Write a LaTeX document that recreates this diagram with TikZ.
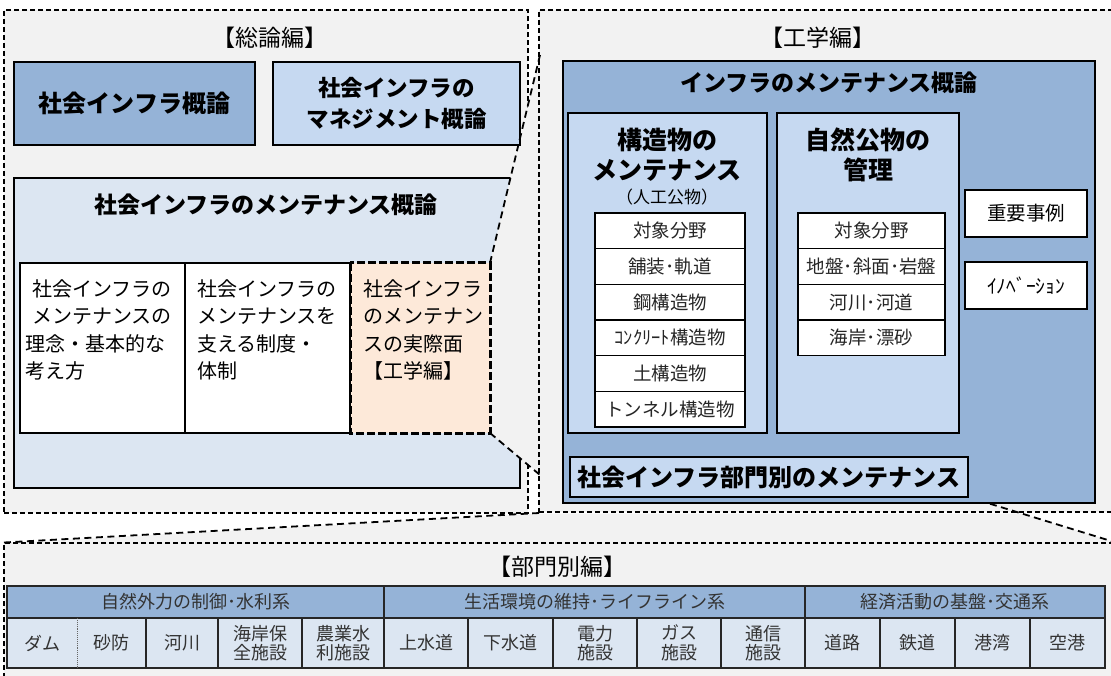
\documentclass[tikz,border=0pt]{standalone}
\usepackage{fontspec}
\setmainfont{Noto Sans CJK JP}
\definecolor{bgray}{HTML}{F2F2F2}
\definecolor{mblue}{HTML}{95B3D7}
\definecolor{lblue}{HTML}{C6D9F1}
\definecolor{vlblue}{HTML}{DCE6F2}
\definecolor{peach}{HTML}{FDE9D9}
\newcommand\fsHead{\fontsize{23}{28}\selectfont}
\newcommand\fsBig{\bfseries\fontsize{24}{30}\selectfont}
\newcommand\fsMg{\bfseries\fontsize{22.5}{31}\selectfont}
\newcommand\fsBold{\bfseries\fontsize{23}{28}\selectfont}
\newcommand\fsSub{\bfseries\fontsize{25}{30}\selectfont}
\newcommand\fsBody{\fontsize{20}{27.5}\selectfont}
\newcommand\fsCell{\fontsize{18.5}{22}\selectfont}
\newcommand\fsSmall{\fontsize{17}{20}\selectfont}
\newcommand\fsTab{\fontsize{18}{19.5}\selectfont}
\newcommand\fsJ{\fontsize{19.5}{22}\selectfont}
\newcommand\fsBumon{\bfseries\fontsize{24}{28}\selectfont}
\begin{document}
\begin{tikzpicture}[x=1pt,y=-1pt,
  bx/.style={rectangle, inner sep=0pt, outer sep=0pt, anchor=north west},
  area/.style={bx, draw=black, fill=bgray, line width=1.2pt, dash pattern=on 5pt off 3pt},
  thk/.style={bx, draw=black, line width=2.6pt},
  cellb/.style={bx, draw=black, fill=white, line width=1.1pt, font=\fsCell, text=black!85},
  tcell/.style={bx, draw=black!85, line width=1.1pt, font=\fsTab, text=black!80, align=center},
  zl/.style={draw=black, line width=1.8pt, dash pattern=on 7pt off 4.5pt},
  lbl/.style={inner sep=0pt, text=black},
]
\useasboundingbox (0,0) rectangle (1111,676);
\fill[white] (0,0) rectangle (1111,676);

% ---------- 総論編 ----------
\node[area, minimum width=524pt, minimum height=503pt] (soron) at (4,10) {};
\node[lbl, font=\fsHead] (soronT) at (270,38) {【総論編】};
\node[thk, fill=mblue, minimum width=241pt, minimum height=83pt, font=\fsBig] (gairon) at (14,62) {社会インフラ概論};
\node[thk, fill=vlblue, minimum width=506pt, minimum height=310pt] (maint) at (14,178) {};
\node[lbl, font=\fsBold] (maintT) at (266,205) {社会インフラのメンテナンス概論};

% upper zoom region
\coordinate (zTL) at (490,263);
\coordinate (zTR) at (540,55);
\coordinate (zBR) at (540,475);
\coordinate (zBL) at (490,433);
\fill[bgray] (zTL) -- (zTR) -- (zBR) -- (zBL) -- cycle;

\node[thk, fill=lblue, minimum width=247pt, minimum height=83pt, align=center, font=\fsMg] (mgmt) at (273,62) {社会インフラの\\マネジメント概論};

\node[thk, fill=white, minimum width=165pt, minimum height=170pt] (w1) at (20,263) {};
\node[thk, fill=white, minimum width=165pt, minimum height=170pt] (w2) at (185,263) {};
\node[bx, fill=peach, minimum width=140pt, minimum height=170pt] (w3) at (350,263) {};
\draw[black, line width=3pt, dash pattern=on 8pt off 3pt] (w3.north west) rectangle (w3.south east);
\draw[black, line width=2.6pt] (w2.north east) -- (w2.south east);
\node[lbl, anchor=north west, align=left, font=\fsBody] (w1t) at (25,279) {\hspace{7pt}社会インフラの\\\hspace{7pt}メンテナンスの\\理念・基本的な\\考え方};
\node[lbl, anchor=north west, align=left, font=\fsBody] (w2t) at (197,279) {社会インフラの\\メンテナンスを\\支える制度・\\体制};
\node[lbl, anchor=north west, align=left, font=\fsBody] (w3t) at (363,279) {社会インフラ\\のメンテナン\\スの実際面\\【工学編】};

% ---------- 工学編 ----------
\node[area, minimum width=580pt, minimum height=502pt] (kogaku) at (539,10) {};
\node[lbl, font=\fsHead] (kogakuT) at (818,38) {【工学編】};

% lower zoom region
\coordinate (dL0) at (4,542.5);
\coordinate (dL1) at (539,513);
\coordinate (dR0) at (1111,541);
\coordinate (dR1) at (968,497);
\fill[bgray] (4,543) -- (539,513.6) -- (1021,513.6) -- (1111,541) -- (1111,543) -- cycle;

% ---------- 部門別編 ----------
\node[area, minimum width=1120pt, minimum height=150pt] (bumon) at (4,543) {};
\node[lbl, font=\fsHead] (bumonT) at (557,567) {【部門別編】};

\draw[zl] (dL0) -- (dL1);
\draw[zl] (dR1) -- (dR0);

% infra box
\node[thk, fill=mblue, minimum width=532pt, minimum height=442pt] (infra) at (563,61) {};
\node[lbl, font=\fsBold] (infraT) at (829,83) {インフラのメンテナンス概論};

\node[thk, fill=lblue, minimum width=199pt, minimum height=320pt] (kozo) at (568,113) {};
\node[lbl, font=\fsSub] (kozoT1) at (667,140) {構造物の};
\node[lbl, font=\fsSub] (kozoT2) at (667,170) {メンテナンス};
\node[lbl, font=\fsSmall] (kozoT3) at (667,197) {（人工公物）};
\node[cellb, minimum width=150pt, minimum height=35.7pt] (k1) at (595,213) {対象分野};
\node[cellb, minimum width=150pt, minimum height=35.7pt] (k2) at (595,248.7) {舗装･軌道};
\node[cellb, minimum width=150pt, minimum height=35.7pt] (k3) at (595,284.3) {鋼構造物};
\node[cellb, minimum width=150pt, minimum height=35.7pt] (k4) at (595,320) {ｺﾝｸﾘｰﾄ構造物};
\node[cellb, minimum width=150pt, minimum height=35.7pt] (k5) at (595,355.7) {土構造物};
\node[cellb, minimum width=150pt, minimum height=35.7pt] (k6) at (595,391.3) {トンネル構造物};

\node[thk, fill=lblue, minimum width=182pt, minimum height=320pt] (shizen) at (777,113) {};
\node[lbl, font=\fsSub] (shizenT1) at (868,140) {自然公物の};
\node[lbl, font=\fsSub] (shizenT2) at (868,170) {管理};
\node[cellb, minimum width=147pt, minimum height=35.7pt] (s1) at (798,213) {対象分野};
\node[cellb, minimum width=147pt, minimum height=35.7pt] (s2) at (798,248.7) {地盤･斜面･岩盤};
\node[cellb, minimum width=147pt, minimum height=35.7pt] (s3) at (798,284.3) {河川･河道};
\node[cellb, minimum width=147pt, minimum height=35.7pt] (s4) at (798,320) {海岸･漂砂};

\node[thk, fill=white, minimum width=122pt, minimum height=47pt, font=\fsJ] (juyo) at (965,190) {重要事例};
\node[thk, fill=white, minimum width=122pt, minimum height=47pt, font=\fsJ] (innov) at (965,262) {ｲﾉﾍﾞｰｼｮﾝ};

\node[thk, fill=lblue, minimum width=398pt, minimum height=40pt, font=\fsBumon] (bumonbox) at (570,457) {社会インフラ部門別のメンテナンス};

% upper zoom lines
\draw[zl] (zTL) -- (zTR);
\draw[zl] (zBL) -- (zBR);

% ---------- 部門別 table ----------
\node[tcell, fill=mblue, minimum width=377pt, minimum height=32pt] (h1) at (7,586) {自然外力の制御･水利系};
\node[tcell, fill=mblue, minimum width=421pt, minimum height=32pt] (h2) at (384,586) {生活環境の維持･ライフライン系};
\node[tcell, fill=mblue, minimum width=300pt, minimum height=32pt] (h3) at (805,586) {経済活動の基盤･交通系};

\node[tcell, fill=vlblue, minimum width=139pt, minimum height=50pt] (damsabo) at (7,618) {};
\draw[densely dotted, black!60, line width=0.9pt] (77,618) -- (77,668);
\node[lbl, font=\fsTab, text=black!80] (dam) at (42,643) {ダム};
\node[lbl, font=\fsTab, text=black!80] (sabo) at (111.5,643) {砂防};
\node[tcell, fill=vlblue, minimum width=72pt, minimum height=50pt] (kasen) at (146,618) {河川};
\node[tcell, fill=vlblue, minimum width=84pt, minimum height=50pt] (kaigan) at (218,618) {海岸保\\全施設};
\node[tcell, fill=vlblue, minimum width=82pt, minimum height=50pt] (nogyo) at (302,618) {農業水\\利施設};
\node[tcell, fill=vlblue, minimum width=84pt, minimum height=50pt] (josui) at (384,618) {上水道};
\node[tcell, fill=vlblue, minimum width=85pt, minimum height=50pt] (gesui) at (468,618) {下水道};
\node[tcell, fill=vlblue, minimum width=84pt, minimum height=50pt] (denryoku) at (553,618) {電力\\施設};
\node[tcell, fill=vlblue, minimum width=84pt, minimum height=50pt] (gas) at (637,618) {ガス\\施設};
\node[tcell, fill=vlblue, minimum width=84pt, minimum height=50pt] (tsushin) at (721,618) {通信\\施設};
\node[tcell, fill=vlblue, minimum width=75pt, minimum height=50pt] (doro) at (805,618) {道路};
\node[tcell, fill=vlblue, minimum width=75pt, minimum height=50pt] (tetsudo) at (880,618) {鉄道};
\node[tcell, fill=vlblue, minimum width=75pt, minimum height=50pt] (kowan) at (955,618) {港湾};
\node[tcell, fill=vlblue, minimum width=75pt, minimum height=50pt] (kuko) at (1030,618) {空港};
\end{tikzpicture}
\end{document}
